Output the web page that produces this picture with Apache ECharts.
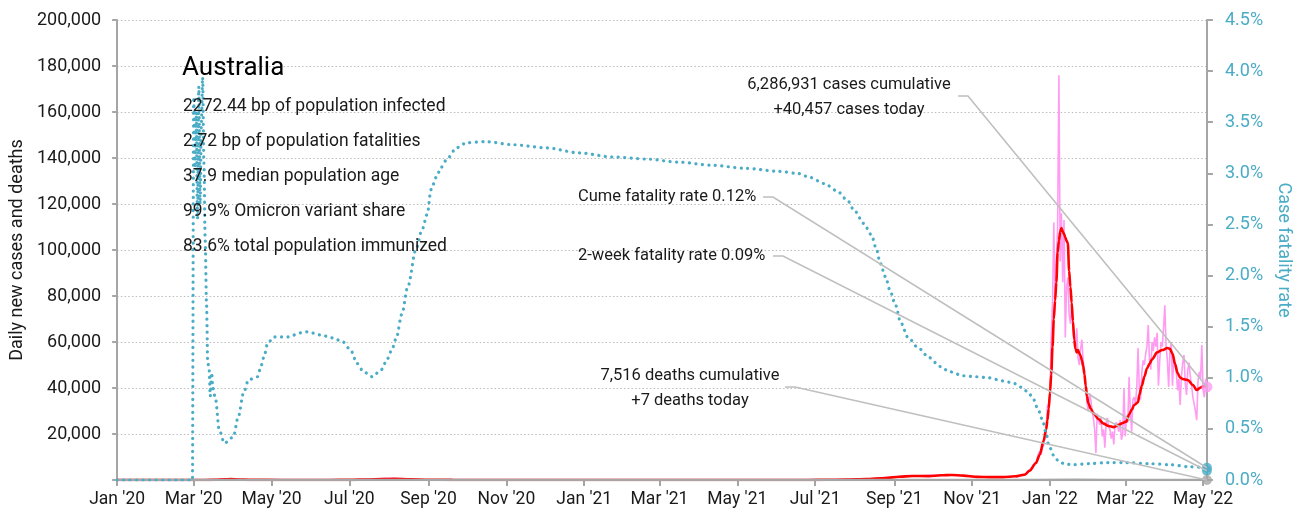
<!DOCTYPE html>
<html>
<head>
<meta charset="utf-8">
<title>Australia – daily cases, deaths and case fatality rate</title>
<script src="https://cdn.jsdelivr.net/npm/echarts@6/dist/echarts.min.js"></script>
<style>
  html, body { margin: 0; padding: 0; background: #fff; }
  #chart { width: 1300px; height: 516px; }
</style>
</head>
<body>
<div id="chart"></div>
<script>
// ---------------------------------------------------------------
// Data
// ---------------------------------------------------------------
const countryName = 'Australia';
const countryStats = [
  '2272.44 bp of population infected',
  '2.72 bp of population fatalities',
  '37.9 median population age',
  '99.9% Omicron variant share',
  '83.6% total population immunized'
];

const casesCumulative = 6286931;
const deathsCumulative = 7516;
const deathsToday = 7;
const twoWeekFatalityRate = 0.09;

// x-axis: first day of every other month gets a tick and label
const monthTicks = [
  '2020-01-01', '2020-03-01', '2020-05-01', '2020-07-01', '2020-09-01', '2020-11-01',
  '2021-01-01', '2021-03-01', '2021-05-01', '2021-07-01', '2021-09-01', '2021-11-01',
  '2022-01-01', '2022-03-01', '2022-05-01'
];
const monthNames = ['Jan', 'Feb', 'Mar', 'Apr', 'May', 'Jun', 'Jul', 'Aug', 'Sep', 'Oct', 'Nov', 'Dec'];
const axisStart = '2020-01-01';
const axisEnd = '2022-05-04';

// Daily new cases before the Omicron wave (sparse)
const dailyEarlyDates = ['2020-01-01', '2020-03-01', '2020-03-15', '2020-03-22', '2020-03-28', '2020-04-05',
  '2020-04-20', '2020-06-20', '2020-07-10', '2020-07-30', '2020-08-05', '2020-08-20', '2020-09-15',
  '2020-10-20', '2021-07-10', '2021-08-10', '2021-09-05', '2021-10-12', '2021-11-10', '2021-11-30'];
const dailyEarlyCases = [0, 10, 90, 400, 450, 150, 20, 20, 180, 720, 600, 250, 40, 10, 60, 400, 1500, 2300, 1300, 1300];

// Daily new cases, one value per day from 1 Dec 2021
const dailyDec21 = [1400, 1600, 1700, 1650, 1500, 1300, 1600, 1900, 2100, 2400,
  2600, 2500, 2300, 3000, 3900, 4600, 5000, 5300, 5800, 5100,
  7500, 9500, 11500, 12500, 11000, 14000, 15000, 18500, 22000, 32000, 33000];
const dailyJan22 = [37000, 63000, 77000, 112000, 78000, 96000, 110000, 176000, 95000, 116000,
  86000, 113000, 62000, 84000, 88000, 72000, 68000, 76000, 66000, 66000,
  58000, 66000, 53000, 50000, 57000, 61000, 52000, 48000, 40000, 33500, 30000];
const dailyFeb22 = [37800, 35000, 30000, 27000, 22000, 11700, 29000, 26000, 24000, 27000,
  19000, 22000, 14000, 25000, 27000, 23000, 22000, 18000, 21000, 15500,
  24000, 25000, 23000, 21000, 26000, 17500, 20000, 40000];
const dailyMar22 = [19000, 28000, 25000, 44800, 30000, 21000, 35000, 36000, 33000, 40000,
  57400, 40000, 35000, 47000, 52000, 50000, 55000, 58000, 67400, 52000,
  48000, 60000, 56000, 62000, 58000, 64000, 41000, 52000, 60000, 58000, 66000];
const dailyApr22 = [76000, 58000, 52000, 40500, 56000, 60000, 41000, 53000, 50000, 47000,
  39000, 44000, 32600, 45000, 51000, 54300, 42000, 37000, 48000, 51000,
  45000, 41000, 36000, 33000, 30000, 26000, 43000, 47000, 44000, 58700];
const dailyMay22 = [39000, 36000, 44000, 40457];

// 7-day average of new cases
const avgDates = ['2020-01-01', '2020-02-28', '2020-03-10', '2020-03-18', '2020-03-25', '2020-03-30',
  '2020-04-05', '2020-04-15', '2020-05-10', '2020-06-15', '2020-07-01', '2020-07-15', '2020-07-28',
  '2020-08-05', '2020-08-18', '2020-09-01', '2020-09-20', '2020-10-15', '2020-12-20', '2021-01-05',
  '2021-02-15', '2021-06-01', '2021-06-25', '2021-07-10', '2021-07-25', '2021-08-10', '2021-08-25',
  '2021-09-05', '2021-09-15', '2021-09-28', '2021-10-08', '2021-10-16', '2021-10-25', '2021-11-05',
  '2021-11-15', '2021-11-25', '2021-12-05', '2021-12-12', '2021-12-16', '2021-12-21', '2021-12-24',
  '2021-12-27', '2021-12-29', '2021-12-30', '2021-12-31', '2022-01-01', '2022-01-02', '2022-01-03',
  '2022-01-04', '2022-01-05', '2022-01-06', '2022-01-07', '2022-01-08', '2022-01-09', '2022-01-10',
  '2022-01-11', '2022-01-12', '2022-01-13', '2022-01-14', '2022-01-15', '2022-01-16', '2022-01-17',
  '2022-01-18', '2022-01-19', '2022-01-20', '2022-01-21', '2022-01-22', '2022-01-23', '2022-01-24',
  '2022-01-25', '2022-01-26', '2022-01-27', '2022-01-28', '2022-01-29', '2022-01-30', '2022-01-31',
  '2022-02-02', '2022-02-04', '2022-02-08', '2022-02-12', '2022-02-16', '2022-02-20', '2022-02-24',
  '2022-02-27', '2022-03-02', '2022-03-04', '2022-03-06', '2022-03-08', '2022-03-11', '2022-03-12',
  '2022-03-14', '2022-03-16', '2022-03-18', '2022-03-20', '2022-03-22', '2022-03-26', '2022-03-30',
  '2022-04-03', '2022-04-05', '2022-04-07', '2022-04-09', '2022-04-11', '2022-04-13', '2022-04-15',
  '2022-04-19', '2022-04-23', '2022-04-26', '2022-04-29', '2022-05-02', '2022-05-04'];
const avgCases = [0, 3, 15, 120, 330, 380,
  250, 60, 15, 15, 60, 250, 420,
  480, 330, 140, 40, 15, 20, 25,
  8, 10, 25, 80, 170, 380, 850,
  1400, 1750, 1700, 2050, 2200, 1900, 1350,
  1250, 1250, 1600, 2300, 4000, 7400, 11000,
  17000, 22000, 26000, 31000, 38000, 46000, 58000,
  70000, 78000, 86000, 99000, 104000, 108000, 109500,
  108000, 107000, 105500, 104000, 103000, 91000, 84000,
  77000, 69000, 61000, 57000, 55500, 56500, 55000,
  54000, 52000, 49500, 46000, 41000, 36500, 33500,
  31000, 29000, 26500, 24500, 23500, 23000, 24000,
  24800, 25500, 28500, 30500, 32600, 33800, 37000,
  41000, 45000, 48500, 50500, 52500, 55500, 56500,
  57400, 57000, 55000, 50500, 46500, 44500, 43900,
  43500, 41300, 39100, 40200, 40900, 41000];

// 7-day average of new deaths
const deathDates = ['2020-01-01', '2020-04-05', '2020-05-01', '2020-07-15', '2020-08-10', '2020-09-10',
  '2020-10-15', '2021-07-15', '2021-09-15', '2021-10-15', '2021-11-20', '2021-12-20', '2022-01-20',
  '2022-02-15', '2022-03-15', '2022-04-15', '2022-05-04'];
const deathAvg = [0, 5, 2, 5, 20, 8, 1, 1, 12, 15, 5, 5, 80, 45, 15, 35, 40];

// Cumulative case fatality rate, %
const cfrDates = ['2020-01-01', '2020-02-29', '2020-03-01', '2020-03-02', '2020-03-03', '2020-03-04',
  '2020-03-05', '2020-03-06', '2020-03-07', '2020-03-08', '2020-03-09', '2020-03-10', '2020-03-11',
  '2020-03-12', '2020-03-13', '2020-03-14', '2020-03-15', '2020-03-16', '2020-03-18', '2020-03-21',
  '2020-03-25', '2020-04-01', '2020-04-05', '2020-04-09', '2020-04-13', '2020-04-20', '2020-04-22',
  '2020-04-25', '2020-04-28', '2020-05-03', '2020-05-14', '2020-05-24', '2020-05-29', '2020-06-08',
  '2020-06-18', '2020-06-26', '2020-07-02', '2020-07-07', '2020-07-12', '2020-07-19', '2020-07-26',
  '2020-07-31', '2020-08-04', '2020-08-07', '2020-08-11', '2020-08-16', '2020-08-22', '2020-08-27',
  '2020-08-31', '2020-09-03', '2020-09-07', '2020-09-11', '2020-09-16', '2020-09-23', '2020-10-01',
  '2020-10-16', '2020-11-06', '2020-12-02', '2020-12-28', '2021-01-23', '2021-02-18', '2021-03-16',
  '2021-04-10', '2021-05-07', '2021-06-02', '2021-06-17', '2021-06-27', '2021-07-08', '2021-07-18',
  '2021-07-26', '2021-08-01', '2021-08-08', '2021-08-14', '2021-08-18', '2021-08-21', '2021-08-25',
  '2021-08-29', '2021-09-02', '2021-09-06', '2021-09-12', '2021-09-20', '2021-09-28', '2021-10-07',
  '2021-10-14', '2021-10-25', '2021-11-04', '2021-11-14', '2021-11-25', '2021-12-03', '2021-12-09',
  '2021-12-15', '2021-12-19', '2021-12-23', '2021-12-26', '2021-12-29', '2021-12-31', '2022-01-04',
  '2022-01-08', '2022-01-13', '2022-01-19', '2022-02-01', '2022-02-16', '2022-03-01', '2022-03-20',
  '2022-04-05', '2022-04-20', '2022-05-04'];
const cfrValues = [0, 0, 3.75, 3.05, 3.60, 2.55,
  3.85, 2.70, 3.50, 3.94, 3.10, 2.35, 1.75,
  1.15, 1.10, 0.82, 1.05, 0.90, 0.80, 0.49,
  0.36, 0.42, 0.62, 0.85, 0.98, 1.01, 1.08,
  1.20, 1.34, 1.40, 1.40, 1.44, 1.45, 1.42,
  1.39, 1.35, 1.27, 1.14, 1.06, 1.01, 1.08,
  1.19, 1.30, 1.40, 1.62, 1.90, 2.25, 2.45,
  2.60, 2.84, 2.96, 3.06, 3.15, 3.25, 3.30,
  3.31, 3.28, 3.25, 3.20, 3.16, 3.14, 3.11,
  3.08, 3.05, 3.02, 3.00, 2.96, 2.90, 2.83,
  2.74, 2.63, 2.51, 2.40, 2.26, 2.12, 1.99,
  1.84, 1.71, 1.54, 1.39, 1.29, 1.20, 1.11,
  1.06, 1.02, 1.01, 1.00, 0.97, 0.95, 0.91,
  0.86, 0.79, 0.68, 0.59, 0.46, 0.34, 0.24,
  0.18, 0.155, 0.15, 0.16, 0.17, 0.17, 0.16,
  0.15, 0.13, 0.12];

// ---------------------------------------------------------------
// Helpers
// ---------------------------------------------------------------
const DAY = 86400000;
const t = s => Date.parse(s);                 // ISO dates parse as UTC milliseconds
const fmtInt = v => Math.round(v).toLocaleString('en-US');
const pairs = (dates, values) => dates.map((d, i) => [t(d), values[i]]);

const dailyMonths = [
  ['2021-12-01', dailyDec21], ['2022-01-01', dailyJan22], ['2022-02-01', dailyFeb22],
  ['2022-03-01', dailyMar22], ['2022-04-01', dailyApr22], ['2022-05-01', dailyMay22]
];
const dailyData = pairs(dailyEarlyDates, dailyEarlyCases);
dailyMonths.forEach(([start, vals]) => vals.forEach((v, i) => dailyData.push([t(start) + i * DAY, v])));

const lastDaily = dailyData[dailyData.length - 1];
const endTime = t(axisEnd);
const casesToday = lastDaily[1];
const cumeFatalityRate = cfrValues[cfrValues.length - 1];

const TEAL = '#4bacc6';
const GREY = '#a6a6a6';
const PINK = '#ff9cf2';
const TEXT = '#1a1a1a';
const FONT = 'Roboto, "Liberation Sans", sans-serif';

// Condensed face for the title, summary and call-outs when it is installed
function fontInstalled(name) {
  const ctx = document.createElement('canvas').getContext('2d');
  const probe = 'Cume fatality rate 0.12% mmmWWW';
  ctx.font = '40px monospace';
  const base = ctx.measureText(probe).width;
  ctx.font = '40px "' + name + '", monospace';
  return Math.abs(ctx.measureText(probe).width - base) > 0.5;
}
const hasNarrow = fontInstalled('Liberation Sans Narrow');
const NOTE_FONT = hasNarrow ? '"Liberation Sans Narrow", ' + FONT : FONT;
const NOTE_SIZES = hasNarrow
  ? { title: 31, stats: 20.5, notes: 19.5 }
  : { title: 26, stats: 17.5, notes: 16.5 };

// ---------------------------------------------------------------
// Chart
// ---------------------------------------------------------------
const chart = echarts.init(document.getElementById('chart'), null, { renderer: 'canvas' });

const tickTimes = monthTicks.map(t);
const dateLabel = v => {
  const d = new Date(v);
  return monthNames[d.getUTCMonth()] + " '" + String(d.getUTCFullYear()).slice(2);
};

const option = {
  animation: false,
  backgroundColor: '#fff',
  textStyle: { fontFamily: FONT },
  grid: { left: 115, right: 88, top: 20, bottom: 36, containLabel: false },
  xAxis: {
    // dates as UTC milliseconds on a linear axis
    type: 'value',
    min: t(axisStart),
    max: endTime,
    axisLine: { show: true, onZero: false, lineStyle: { color: GREY, width: 2 } },
    axisTick: { show: true, customValues: tickTimes, length: 6, lineStyle: { color: GREY, width: 2 } },
    axisLabel: {
      customValues: tickTimes, formatter: dateLabel,
      color: TEXT, fontSize: 17.5, margin: 11, fontFamily: FONT
    },
    splitLine: { show: false }
  },
  yAxis: [
    {
      type: 'value', position: 'left', min: 0, max: 200000, interval: 20000,
      axisLine: { show: true, lineStyle: { color: GREY, width: 2 } },
      axisTick: { show: true, length: 5, lineStyle: { color: GREY, width: 2 } },
      axisLabel: { formatter: v => (v === 0 ? '' : fmtInt(v)), color: TEXT, fontSize: 18, margin: 16, fontFamily: FONT },
      splitLine: { show: true, lineStyle: { color: '#bdbdbd', width: 1.2, type: [1.5, 2.2] } },
      name: 'Daily new cases and deaths',
      nameLocation: 'middle', nameGap: 88,
      nameTextStyle: { color: TEXT, fontSize: 18, fontFamily: FONT }
    },
    {
      type: 'value', position: 'right', min: 0, max: 4.5, interval: 0.5,
      axisLine: { show: true, lineStyle: { color: GREY, width: 2 } },
      axisTick: { show: true, length: 6, lineStyle: { color: GREY, width: 2 } },
      axisLabel: { formatter: v => v.toFixed(1) + '%', color: TEAL, fontSize: 18, margin: 18, fontFamily: FONT },
      splitLine: { show: false },
      name: 'Case fatality rate',
      nameLocation: 'middle', nameGap: 62, nameRotate: -90,
      nameTextStyle: { color: TEAL, fontSize: 18, fontFamily: FONT }
    }
  ],
  series: [
    {
      name: 'Daily new cases', type: 'line', yAxisIndex: 0, data: dailyData,
      showSymbol: false, lineStyle: { color: PINK, width: 1.6 }, z: 2
    },
    {
      name: '7-day average cases', type: 'line', yAxisIndex: 0, data: pairs(avgDates, avgCases),
      showSymbol: false, smooth: 0.3, smoothMonotone: 'x',
      lineStyle: { color: '#ff0000', width: 2.6 }, z: 3
    },
    {
      name: '7-day average deaths', type: 'line', yAxisIndex: 0, data: pairs(deathDates, deathAvg),
      showSymbol: false, lineStyle: { color: GREY, width: 2.5 }, z: 3
    },
    {
      name: 'Case fatality rate', type: 'line', yAxisIndex: 1, data: pairs(cfrDates, cfrValues),
      showSymbol: false, smooth: 0.3, smoothMonotone: 'x',
      lineStyle: { color: TEAL, width: 3.2, type: [0.1, 6.4], cap: 'round' }, z: 4
    },
    {
      name: 'Cases today', type: 'scatter', yAxisIndex: 0, clip: false,
      data: [[lastDaily[0], casesToday]], symbolSize: 11, itemStyle: { color: PINK }, z: 6
    },
    {
      name: 'Fatality rates', type: 'scatter', yAxisIndex: 1, clip: false,
      data: [[endTime, cumeFatalityRate], [endTime, twoWeekFatalityRate]],
      symbolSize: 10, itemStyle: { color: TEAL }, z: 6
    },
    {
      name: 'Deaths today', type: 'scatter', yAxisIndex: 0, clip: false,
      data: [[endTime, deathsToday]], symbolSize: 10, itemStyle: { color: GREY }, z: 6
    }
  ]
};
chart.setOption(option);

// ---------------------------------------------------------------
// Title, summary block and call-outs with leader lines
// ---------------------------------------------------------------
const toPx = (x, y, yAxisIndex) => chart.convertToPixel({ xAxisIndex: 0, yAxisIndex }, [x, y]);

const callouts = [
  {
    text: fmtInt(casesCumulative) + ' cases cumulative\n+' + fmtInt(casesToday) + ' cases today',
    x: 849, y: 97.5, align: 'center', leaderX: 958, leaderY: 96,
    target: toPx(lastDaily[0], casesToday, 0)
  },
  {
    text: 'Cume fatality rate ' + cumeFatalityRate.toFixed(2) + '%',
    x: 578, y: 197, align: 'left', leaderX: 763, leaderY: 197,
    target: toPx(endTime, cumeFatalityRate, 1)
  },
  {
    text: '2-week fatality rate ' + twoWeekFatalityRate.toFixed(2) + '%',
    x: 578, y: 256, align: 'left', leaderX: 773, leaderY: 256,
    target: toPx(endTime, twoWeekFatalityRate, 1)
  },
  {
    text: fmtInt(deathsCumulative) + ' deaths cumulative\n+' + deathsToday + ' deaths today',
    x: 690, y: 388.5, align: 'center', leaderX: 785, leaderY: 387,
    target: toPx(endTime, deathsToday, 0)
  }
];

const graphics = [];
graphics.push({
  type: 'text', x: 182, y: 68, z: 50,
  style: { text: countryName, fill: '#000', font: NOTE_SIZES.title + 'px ' + NOTE_FONT, textVerticalAlign: 'middle' }
});
graphics.push({
  type: 'text', x: 183, y: 177, z: 50,
  style: {
    text: countryStats.join('\n'), fill: TEXT, font: NOTE_SIZES.stats + 'px ' + NOTE_FONT,
    lineHeight: 35, textVerticalAlign: 'middle'
  }
});
callouts.forEach(c => {
  graphics.push({
    type: 'polyline', z: 40, silent: true,
    shape: { points: [[c.leaderX, c.leaderY], [c.leaderX + 10, c.leaderY], c.target] },
    style: { stroke: '#bfbfbf', lineWidth: 1.6, fill: null }
  });
  graphics.push({
    type: 'text', x: c.x, y: c.y, z: 50,
    style: {
      text: c.text, fill: TEXT, font: NOTE_SIZES.notes + 'px ' + NOTE_FONT, lineHeight: 25,
      textAlign: c.align, textVerticalAlign: 'middle'
    }
  });
});

chart.setOption({ graphic: graphics });
</script>
</body>
</html>
